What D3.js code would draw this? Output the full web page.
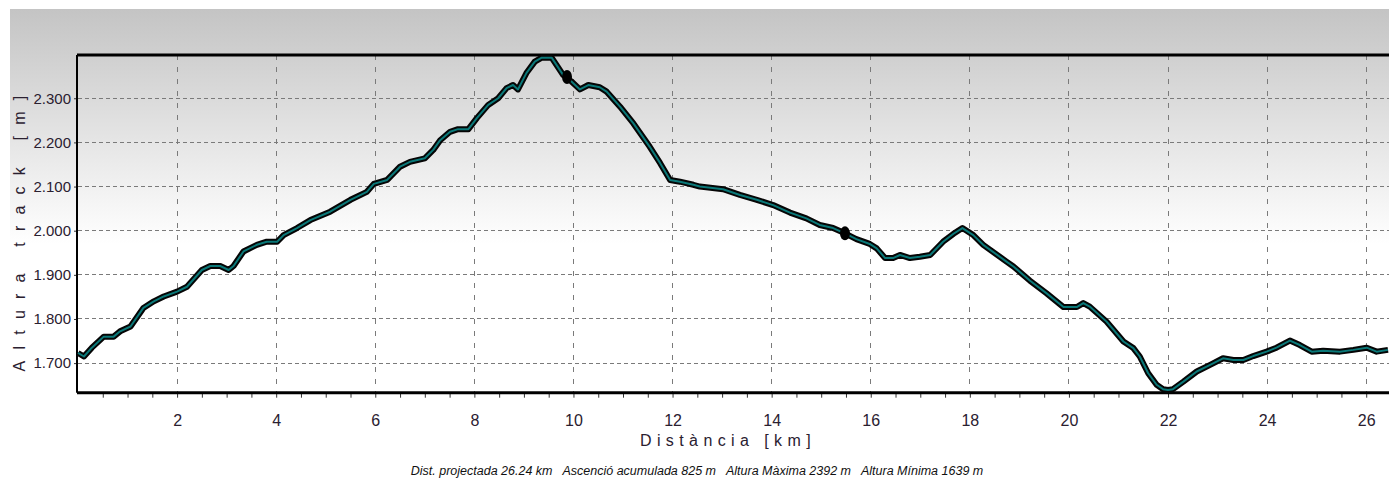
<!DOCTYPE html>
<html>
<head>
<meta charset="utf-8">
<script src="https://cdn.jsdelivr.net/npm/d3@7"></script>
<style>
  html, body { margin: 0; padding: 0; background: #fff; }
  svg { display: block; }
  .narrow { font-family: 'Liberation Sans Narrow', 'Arial Narrow', 'Liberation Sans', sans-serif; }
</style>
</head>
<body>
<div id="chart"></div>
<script>
// track profile: distance (km) and altitude (m)
const distKm = [0, 0.12, 0.28, 0.52, 0.72, 0.85, 1.06, 1.32, 1.53, 1.73, 2.0, 2.2, 2.5, 2.67, 2.87, 3.04, 3.14,
  3.34, 3.61, 3.81, 4.02, 4.15, 4.42, 4.69, 5.09, 5.5, 5.83, 5.97, 6.24, 6.5, 6.7, 7.0, 7.17, 7.31, 7.51,
  7.67, 7.88, 8.05, 8.28, 8.48, 8.65, 8.78, 8.88, 9.05, 9.22, 9.36, 9.56, 9.66, 9.79, 9.96, 10.13, 10.3,
  10.53, 10.67, 10.94, 11.21, 11.54, 11.75, 11.95, 12.15, 12.42, 12.55, 13.02, 13.36, 13.7, 14.03, 14.37,
  14.7, 14.97, 15.24, 15.48, 15.71, 15.98, 16.12, 16.29, 16.45, 16.59, 16.79, 16.99, 17.2, 17.46, 17.67,
  17.85, 18.07, 18.27, 18.74, 18.88, 19.21, 19.55, 19.89, 20.16, 20.29, 20.42, 20.76, 21.1, 21.3, 21.43,
  21.6, 21.77, 21.9, 22.0, 22.1, 22.31, 22.58, 22.85, 23.11, 23.32, 23.52, 23.72, 23.99, 24.19, 24.46,
  24.66, 24.9, 25.13, 25.47, 25.74, 26.01, 26.21, 26.44];
const altM = [1723, 1715, 1735, 1760, 1760, 1772, 1783, 1825, 1840, 1851, 1862, 1873, 1911, 1920, 1920, 1911, 1920,
  1953, 1968, 1975, 1975, 1990, 2006, 2024, 2043, 2070, 2088, 2106, 2115, 2145, 2156, 2164, 2183, 2205, 2224,
  2230, 2230, 2255, 2285, 2300, 2323, 2330, 2320, 2357, 2383, 2392, 2392, 2375, 2353, 2338, 2320, 2330,
  2325, 2315, 2281, 2243, 2190, 2153, 2115, 2111, 2104, 2100, 2094, 2081, 2070, 2058, 2041,
  2028, 2013, 2006, 1994, 1981, 1970, 1960, 1938, 1938, 1945, 1938, 1941, 1945, 1975, 1993,
  2006, 1990, 1968, 1930, 1919, 1887, 1858, 1827, 1827, 1836, 1828, 1794, 1749, 1734, 1715,
  1677, 1651, 1641, 1639, 1641, 1658, 1681, 1696, 1711, 1707, 1707, 1716, 1726, 1735, 1751,
  1741, 1726, 1728, 1726, 1730, 1735, 1726, 1730];

// waypoint markers on the track
const markerKm = [9.87, 15.48];
const markerAlt = [2348, 1994];

const xTicks = [2, 4, 6, 8, 10, 12, 14, 16, 18, 20, 22, 24, 26];
const yTicks = [1700, 1800, 1900, 2000, 2100, 2200, 2300];

const xTitle = "Distància [km]";
const yTitle = "Altura track [m]";
const footer = "Dist. projectada 26.24 km   Ascenció acumulada 825 m   Altura Màxima 2392 m   Altura Mínima 1639 m";

const W = 1389, H = 479;
const plot = { left: 78, top: 55, right: 1389, bottom: 392.7 };

const svg = d3.select("#chart").append("svg")
  .attr("width", W)
  .attr("height", H);

const defs = svg.append("defs");
const grad = defs.append("linearGradient")
  .attr("id", "bg")
  .attr("x1", 0).attr("y1", 0).attr("x2", 0).attr("y2", 1);
grad.append("stop").attr("offset", "0%").attr("stop-color", "#c4c4c4");
grad.append("stop").attr("offset", "50%").attr("stop-color", "#ffffff");
grad.append("stop").attr("offset", "100%").attr("stop-color", "#ffffff");

svg.append("rect")
  .attr("x", 10).attr("y", 9)
  .attr("width", W - 10).attr("height", H - 9)
  .attr("fill", "url(#bg)");

const x = d3.scaleLinear().domain([0, 26.46]).range([plot.left, plot.right]);
const y = d3.scaleLinear().domain([1633, 2398]).range([plot.bottom, plot.top]);

// gridlines
svg.append("g")
  .selectAll("line")
  .data(xTicks)
  .join("line")
  .attr("x1", d => x(d)).attr("x2", d => x(d))
  .attr("y1", plot.top).attr("y2", plot.bottom)
  .attr("stroke", "#7a7a7a")
  .attr("stroke-width", 1)
  .attr("stroke-dasharray", "5,7")
  .attr("shape-rendering", "crispEdges");

svg.append("g")
  .selectAll("line")
  .data(yTicks)
  .join("line")
  .attr("x1", plot.left).attr("x2", plot.right)
  .attr("y1", d => y(d)).attr("y2", d => y(d))
  .attr("stroke", "#7a7a7a")
  .attr("stroke-width", 1)
  .attr("stroke-dasharray", "4,3")
  .attr("shape-rendering", "crispEdges");

// axes
const fmt = d3.formatLocale({ decimal: ",", thousands: ".", grouping: [3], currency: ["", ""] }).format(",");

const xAxis = svg.append("g")
  .attr("transform", `translate(0,${plot.bottom})`)
  .call(d3.axisBottom(x).tickValues(d3.range(0.5, 26.5, 0.5)).tickSize(5).tickFormat(""));
xAxis.select(".domain").remove();
xAxis.selectAll(".tick line").attr("stroke", "#333");

const xLab = svg.append("g")
  .attr("transform", `translate(0,${plot.bottom})`)
  .call(d3.axisBottom(x).tickValues(xTicks).tickSize(0).tickPadding(22));
xLab.select(".domain").remove();
xLab.selectAll("text")
  .attr("class", "narrow")
  .style("font-size", "16px")
  .attr("fill", "#2a2030");

const yAxis = svg.append("g")
  .attr("transform", `translate(${plot.left},0)`)
  .call(d3.axisLeft(y).tickValues(yTicks).tickSize(4).tickPadding(3).tickFormat(fmt));
yAxis.select(".domain").remove();
yAxis.selectAll(".tick line").attr("stroke", "#333");
yAxis.selectAll("text")
  .attr("class", "narrow")
  .style("font-size", "15px")
  .attr("fill", "#2a2030");

// frame
svg.append("line")
  .attr("x1", plot.left - 1).attr("x2", plot.right)
  .attr("y1", plot.top).attr("y2", plot.top)
  .attr("stroke", "#000").attr("stroke-width", 3);
svg.append("line")
  .attr("x1", plot.left - 1).attr("x2", plot.right)
  .attr("y1", plot.bottom).attr("y2", plot.bottom)
  .attr("stroke", "#000").attr("stroke-width", 3);
svg.append("line")
  .attr("x1", plot.left - 1).attr("x2", plot.left - 1)
  .attr("y1", plot.top).attr("y2", plot.bottom)
  .attr("stroke", "#000").attr("stroke-width", 2);

// profile line: black casing with teal core
const pts = distKm.map((d, i) => [d, altM[i]]);
const line = d3.line().x(d => x(d[0])).y(d => y(d[1]));

svg.append("path")
  .datum(pts)
  .attr("d", line)
  .attr("fill", "none")
  .attr("stroke", "#050505")
  .attr("stroke-width", 6)
  .attr("stroke-linejoin", "round");
svg.append("path")
  .datum(pts)
  .attr("d", line)
  .attr("fill", "none")
  .attr("stroke", "#0a7878")
  .attr("stroke-width", 2)
  .attr("stroke-linejoin", "round");

svg.append("g")
  .selectAll("ellipse")
  .data(markerKm)
  .join("ellipse")
  .attr("cx", d => x(d))
  .attr("cy", (d, i) => y(markerAlt[i]))
  .attr("rx", 5)
  .attr("ry", 7)
  .attr("fill", "#000");

// titles
svg.append("text")
  .attr("class", "narrow")
  .attr("x", 728).attr("y", 446)
  .attr("text-anchor", "middle")
  .style("font-size", "16px")
  .style("letter-spacing", "5.4px")
  .attr("fill", "#2a2030")
  .text(xTitle);

svg.append("text")
  .attr("class", "narrow")
  .attr("transform", "translate(25,228) rotate(-90)")
  .attr("text-anchor", "middle")
  .style("font-size", "16px")
  .style("letter-spacing", "11.2px")
  .attr("fill", "#2a2030")
  .text(yTitle);

svg.append("text")
  .attr("class", "narrow")
  .attr("x", 697).attr("y", 475)
  .attr("text-anchor", "middle")
  .style("font-size", "12.5px")
  .style("font-style", "italic")
  .style("white-space", "pre")
  .attr("fill", "#111")
  .text(footer);
</script>
</body>
</html>
